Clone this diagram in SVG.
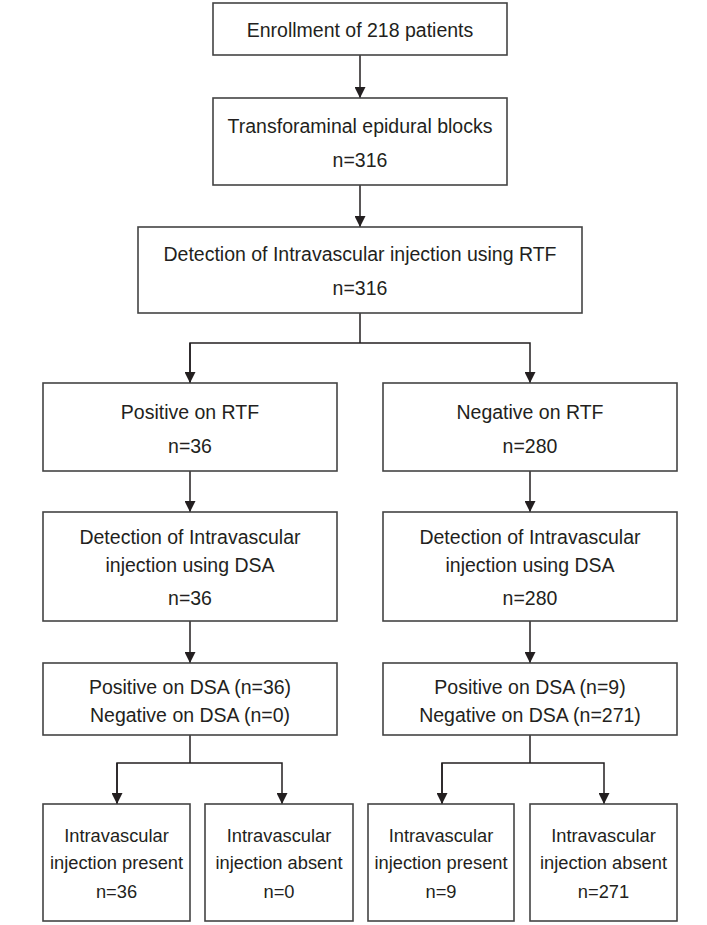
<svg xmlns="http://www.w3.org/2000/svg" width="707" height="925" viewBox="0 0 707 925">
<style>
.box{fill:#fff;stroke:#444;stroke-width:1.6}
.t{font-family:"Liberation Sans",Arial,sans-serif;font-size:19.5px;fill:#231f20;text-anchor:middle}
.s{font-size:18.3px}
.c{fill:none;stroke:#231f20;stroke-width:1.5}
</style>
<defs>
<marker id="ah" viewBox="0 0 10 10" refX="10" refY="5" markerWidth="11" markerHeight="11" markerUnits="userSpaceOnUse" orient="auto">
<path d="M0,0 L10,5 L0,10 z" fill="#231f20"/>
</marker>
</defs>
<rect width="707" height="925" fill="#fff"/>
<g id="connectors">
<path class="c" d="M360,55 V98" marker-end="url(#ah)"/>
<path class="c" d="M360,185 V227" marker-end="url(#ah)"/>
<path class="c" d="M360,313 V343"/>
<path class="c" d="M190,383 V343 H530 V383" marker-end="url(#ah)"/>
<path class="c" d="M190,343 V383" marker-end="url(#ah)"/>
<path class="c" d="M190,471 V512" marker-end="url(#ah)"/>
<path class="c" d="M530,471 V512" marker-end="url(#ah)"/>
<path class="c" d="M190,621 V663" marker-end="url(#ah)"/>
<path class="c" d="M530,621 V663" marker-end="url(#ah)"/>
<path class="c" d="M190,735 V763"/>
<path class="c" d="M117,804 V763 H282 V804" marker-end="url(#ah)"/>
<path class="c" d="M117,763 V804" marker-end="url(#ah)"/>
<path class="c" d="M530,735 V763"/>
<path class="c" d="M442,804 V763 H604 V804" marker-end="url(#ah)"/>
<path class="c" d="M442,763 V804" marker-end="url(#ah)"/>
</g>
<g id="n1">
<rect class="box" x="213" y="3" width="294" height="52"/>
<text class="t" x="360" y="37">Enrollment of 218 patients</text>
</g>
<g id="n2">
<rect class="box" x="213" y="98" width="294" height="87"/>
<text class="t" x="360" y="133">Transforaminal epidural blocks</text>
<text class="t" x="360" y="167">n=316</text>
</g>
<g id="n3">
<rect class="box" x="138" y="227" width="444" height="86"/>
<text class="t" x="360" y="261">Detection of Intravascular injection using RTF</text>
<text class="t" x="360" y="295">n=316</text>
</g>
<g id="n4">
<rect class="box" x="43" y="383" width="294" height="88"/>
<text class="t" x="190" y="419">Positive on RTF</text>
<text class="t" x="190" y="453">n=36</text>
</g>
<g id="n5">
<rect class="box" x="383" y="383" width="294" height="88"/>
<text class="t" x="530" y="419">Negative on RTF</text>
<text class="t" x="530" y="453">n=280</text>
</g>
<g id="n6">
<rect class="box" x="43" y="512" width="294" height="109"/>
<text class="t" x="190" y="544">Detection of Intravascular</text>
<text class="t" x="190" y="572">injection using DSA</text>
<text class="t" x="190" y="605">n=36</text>
</g>
<g id="n7">
<rect class="box" x="383" y="512" width="294" height="109"/>
<text class="t" x="530" y="544">Detection of Intravascular</text>
<text class="t" x="530" y="572">injection using DSA</text>
<text class="t" x="530" y="605">n=280</text>
</g>
<g id="n8">
<rect class="box" x="43" y="663" width="294" height="72"/>
<text class="t" x="190" y="694">Positive on DSA (n=36)</text>
<text class="t" x="190" y="722">Negative on DSA (n=0)</text>
</g>
<g id="n9">
<rect class="box" x="383" y="663" width="294" height="72"/>
<text class="t" x="530" y="694">Positive on DSA (n=9)</text>
<text class="t" x="530" y="722">Negative on DSA (n=271)</text>
</g>
<g id="n10">
<rect class="box" x="43" y="804" width="147" height="117"/>
<text class="t s" x="116.5" y="842">Intravascular</text>
<text class="t s" x="116.5" y="869">injection present</text>
<text class="t s" x="116.5" y="898">n=36</text>
</g>
<g id="n11">
<rect class="box" x="205" y="804" width="148" height="117"/>
<text class="t s" x="279" y="842">Intravascular</text>
<text class="t s" x="279" y="869">injection absent</text>
<text class="t s" x="279" y="898">n=0</text>
</g>
<g id="n12">
<rect class="box" x="368" y="804" width="146" height="117"/>
<text class="t s" x="441" y="842">Intravascular</text>
<text class="t s" x="441" y="869">injection present</text>
<text class="t s" x="441" y="898">n=9</text>
</g>
<g id="n13">
<rect class="box" x="530" y="804" width="147" height="117"/>
<text class="t s" x="603.5" y="842">Intravascular</text>
<text class="t s" x="603.5" y="869">injection absent</text>
<text class="t s" x="603.5" y="898">n=271</text>
</g>
</svg>
